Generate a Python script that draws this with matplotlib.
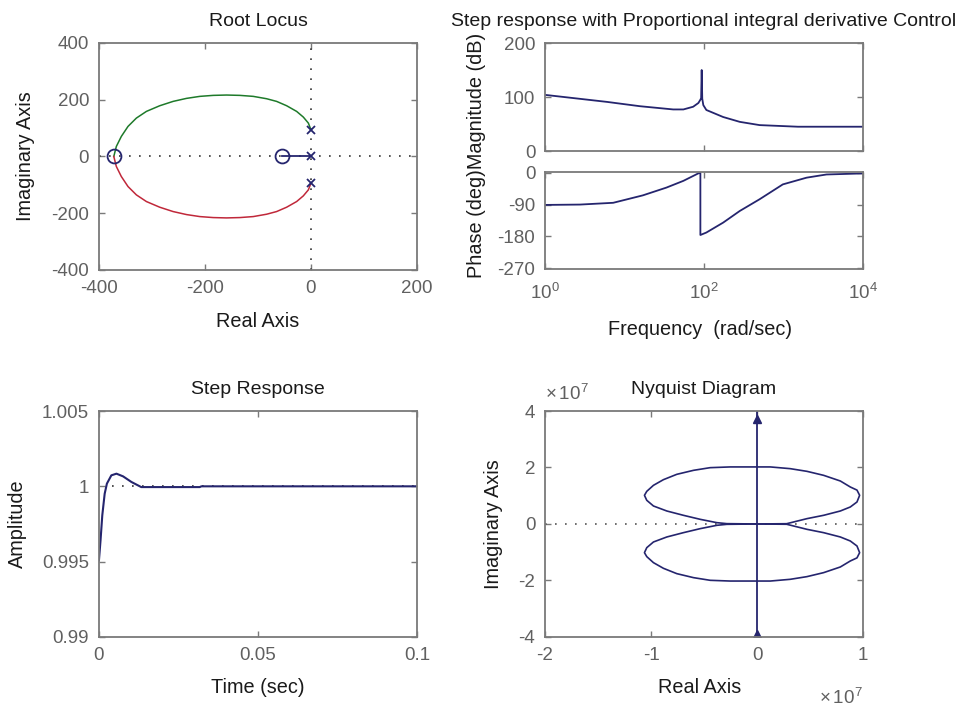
import numpy as np
import matplotlib
matplotlib.use('Agg')
import matplotlib.pyplot as plt
from matplotlib.ticker import FuncFormatter, NullLocator

plt.rcParams['font.family'] = ['Liberation Sans', 'DejaVu Sans']
plt.rcParams['font.size'] = 13.5
plt.rcParams['axes.unicode_minus'] = False
plt.rcParams['mathtext.fontset'] = 'custom'
plt.rcParams['mathtext.rm'] = 'Liberation Sans'

LINE = '#25256e'
EDGE = '#7a7a7a'
TICK = '#606060'
TXT = '#1a1a1a'
TITLE_FS = 14
LABEL_FS = 14.3

# root locus branches (upper = green, lower = red, real branch = blue)
rl_re_up = [0, -4.9, -14.4, -27.0, -45.9, -64.8, -83.7, -108.9, -134.1, -159.3, -184.5, -209.7,
            -234.9, -260.1, -285.3, -310.5, -329.4, -345.2, -357.8, -367.2, -372]
rl_im_up = [94, 117.6, 138.8, 158.8, 178.8, 194.1, 203.5, 211.8, 215.3, 216.5, 215.3, 211.8,
            204.7, 194.1, 178.8, 158.8, 135.3, 105.9, 70.6, 35.3, 0]
rl_re_low = rl_re_up
rl_im_low = [-v for v in rl_im_up]
rl_re_real = [0, -55]
rl_im_real = [0, 0]
pole_re = [0, 0, 0]
pole_im = [94, 0, -94]
zero_re = [-372, -55]
zero_im = [0, 0]

# bode data
mag_w = [1, 6, 15.6, 41, 55, 73, 85, 90, 92, 93.5, 95, 98, 107, 174, 282, 500, 1520, 10000]
mag_db = [104, 91, 83, 77, 77, 82, 89, 95, 98, 150, 97, 85, 76, 63, 54, 48, 45, 45]
ph_w = [1, 2.75, 7.2, 17, 33.7, 55, 84.6, 90, 90, 107, 174, 282, 500, 980, 1950, 3470, 10000]
ph_deg = [-91, -90, -85, -64, -42, -23, -2, 0, -176, -169, -141, -108, -75, -33, -14, -5, -2]

# step response
step_t = [0, 0.0005, 0.00105, 0.0018, 0.0025, 0.0039, 0.0055, 0.0076, 0.0102, 0.0133, 0.0317, 0.0322, 0.1]
step_y = [0.99509, 0.99642, 0.99808, 0.99951, 1.00018, 1.00073, 1.00084, 1.00066, 1.00029,
          0.99995, 0.99995, 1.0, 1.0]

# nyquist (upper lobe, lower is its mirror)
nyq_re_up = [0, 0.28e7, 0.345e7, 0.471e7, 0.628e7, 0.786e7, 0.88e7, 0.943e7, 0.968e7, 0.943e7,
             0.88e7, 0.786e7, 0.628e7, 0.471e7, 0.313e7, 0.125e7, -0.253e7, -0.442e7, -0.599e7,
             -0.757e7, -0.883e7, -0.977e7, -1.04e7, -1.062e7, -1.04e7, -0.977e7, -0.851e7,
             -0.694e7, -0.536e7, -0.379e7, -0.285e7, 0]
nyq_im_up = [0, 0.01e7, 0.071e7, 0.189e7, 0.307e7, 0.46e7, 0.602e7, 0.779e7, 1.015e7, 1.2e7,
             1.31e7, 1.522e7, 1.723e7, 1.864e7, 1.959e7, 2.02e7, 2.02e7, 1.994e7, 1.9e7,
             1.758e7, 1.569e7, 1.369e7, 1.156e7, 1.015e7, 0.838e7, 0.637e7, 0.46e7,
             0.307e7, 0.165e7, 0.047e7, 0.012e7, 0]
nyq_im_low = [-v for v in nyq_im_up]
nyq_axis_re = [0, 0]
nyq_axis_im = [-4e7, 4e7]
nyq_arrow_im = [3.7e7, -3.9e7]


def style(ax):
    for s in ax.spines.values():
        s.set_color(EDGE)
        s.set_linewidth(1.3)
    ax.tick_params(direction='in', length=4, width=1, color=EDGE, labelcolor=TICK,
                   top=True, right=True, pad=7)


fig = plt.figure(figsize=(9.57, 7.09), dpi=100)

# ---- root locus
ax1 = fig.add_axes([0.1034, 0.6192, 0.3323, 0.3202])
ax1.axhline(0, color='#333333', ls=(0, (1, 5)), lw=1.2)
ax1.axvline(0, color='#333333', ls=(0, (1, 5)), lw=1.2)
ax1.plot(rl_re_up, rl_im_up, color='#1e7a2a', lw=1.1)
ax1.plot(rl_re_low, rl_im_low, color='#c0283a', lw=1.1)
ax1.plot(rl_re_real, rl_im_real, color=LINE, lw=1.3)
ax1.plot(pole_re, pole_im, 'x', color=LINE, ms=6, mew=1.3)
ax1.plot(zero_re, zero_im, 'o', mfc='none', mec=LINE, ms=10, mew=1.3)
ax1.set_xlim(-400, 200)
ax1.set_ylim(-400, 400)
ax1.set_xticks([-400, -200, 0, 200])
ax1.set_yticks([-400, -200, 0, 200, 400])
ax1.set_title('Root Locus', color=TXT, pad=12, fontsize=TITLE_FS)
ax1.set_xlabel('Real Axis', color=TXT, fontsize=LABEL_FS)
ax1.set_ylabel('Imaginary Axis', color=TXT, fontsize=LABEL_FS)
ax1.yaxis.set_label_coords(-0.20, 0.5)
ax1.xaxis.set_label_coords(0.5, -0.185)
style(ax1)

# ---- bode magnitude
ax2 = fig.add_axes([0.5695, 0.787, 0.3323, 0.1523])
ax2.semilogx(mag_w, mag_db, color=LINE, lw=1.3)
ax2.set_xlim(1, 1e4)
ax2.set_ylim(0, 200)
ax2.set_yticks([0, 100, 200])
ax2.set_xticks([1, 100, 1e4])
ax2.xaxis.set_minor_locator(NullLocator())
ax2.set_xticklabels([])
ax2.set_title('Step response with Proportional integral derivative Control', color=TXT,
              pad=12, fontsize=TITLE_FS)
style(ax2)

# ---- bode phase
ax3 = fig.add_axes([0.5695, 0.6206, 0.3323, 0.1368])
ax3.semilogx(ph_w, ph_deg, color=LINE, lw=1.3)
ax3.set_xlim(1, 1e4)
ax3.set_ylim(-272, 2)
ax3.set_yticks([-270, -180, -90, 0])
ax3.set_xticks([1, 100, 1e4])
ax3.xaxis.set_minor_locator(NullLocator())
ax3.set_xlabel('Frequency  (rad/sec)', color=TXT, fontsize=LABEL_FS)
ax3.xaxis.set_label_coords(0.487, -0.53)
style(ax3)
ax3.tick_params(axis='x', pad=10)
fig.text(477 / 957, 1 - 155 / 709, 'Phase (deg)Magnitude (dB)', rotation=90,
         ha='center', va='center', color=TXT, fontsize=LABEL_FS)

# ---- step response
ax4 = fig.add_axes([0.1034, 0.1016, 0.3323, 0.3187])
ax4.hlines(1, 0.004, 0.1, color='#333333', ls=(0, (1, 5)), lw=1.2)
ax4.plot(step_t, step_y, color=LINE, lw=1.5)
ax4.set_xlim(0, 0.1)
ax4.set_ylim(0.99, 1.005)
ax4.set_xticks([0, 0.05, 0.1])
ax4.set_xticklabels(['0', '0.05', '0.1'])
ax4.set_yticks([0.99, 0.995, 1, 1.005])
ax4.set_yticklabels(['0.99', '0.995', '1', '1.005'])
ax4.set_title('Step Response', color=TXT, pad=12, fontsize=TITLE_FS)
ax4.set_xlabel('Time (sec)', color=TXT, fontsize=LABEL_FS)
ax4.set_ylabel('Amplitude', color=TXT, fontsize=LABEL_FS)
ax4.yaxis.set_label_coords(-0.226, 0.5)
ax4.xaxis.set_label_coords(0.5, -0.18)
style(ax4)

# ---- nyquist
ax5 = fig.add_axes([0.5695, 0.1016, 0.3323, 0.3187])
ax5.axhline(0, color='#555555', ls=(0, (1, 5)), lw=1.2)
ax5.plot(nyq_re_up, nyq_im_up, color=LINE, lw=1.2)
ax5.plot(nyq_re_up, nyq_im_low, color=LINE, lw=1.2)
ax5.plot(nyq_axis_re, nyq_axis_im, color=LINE, lw=1.3)
ax5.plot([0, 0], nyq_arrow_im, '^', color=LINE, ms=6, ls='none')
ax5.set_xlim(-2e7, 1e7)
ax5.set_ylim(-4e7, 4e7)
ax5.set_xticks([-2e7, -1e7, 0, 1e7])
ax5.set_yticks([-4e7, -2e7, 0, 2e7, 4e7])
sci = FuncFormatter(lambda v, p: '%g' % (v / 1e7))
ax5.xaxis.set_major_formatter(sci)
ax5.yaxis.set_major_formatter(sci)
ax5.set_title('Nyquist Diagram', color=TXT, pad=12, fontsize=TITLE_FS)
ax5.set_xlabel('Real Axis', color=TXT, fontsize=LABEL_FS)
ax5.set_ylabel('Imaginary Axis', color=TXT, fontsize=LABEL_FS)
ax5.yaxis.set_label_coords(-0.132, 0.5)
ax5.xaxis.set_label_coords(0.487, -0.18)
ax5.text(0.0, 1.03, r'$\times\,\mathdefault{10^{7}}$', transform=ax5.transAxes,
         color=TICK, ha='left', va='bottom')
ax5.text(0.86, -0.27, r'$\times\,\mathdefault{10^{7}}$', transform=ax5.transAxes,
         color=TICK, ha='left', va='center')
style(ax5)

fig.savefig('out.png', dpi=100)
